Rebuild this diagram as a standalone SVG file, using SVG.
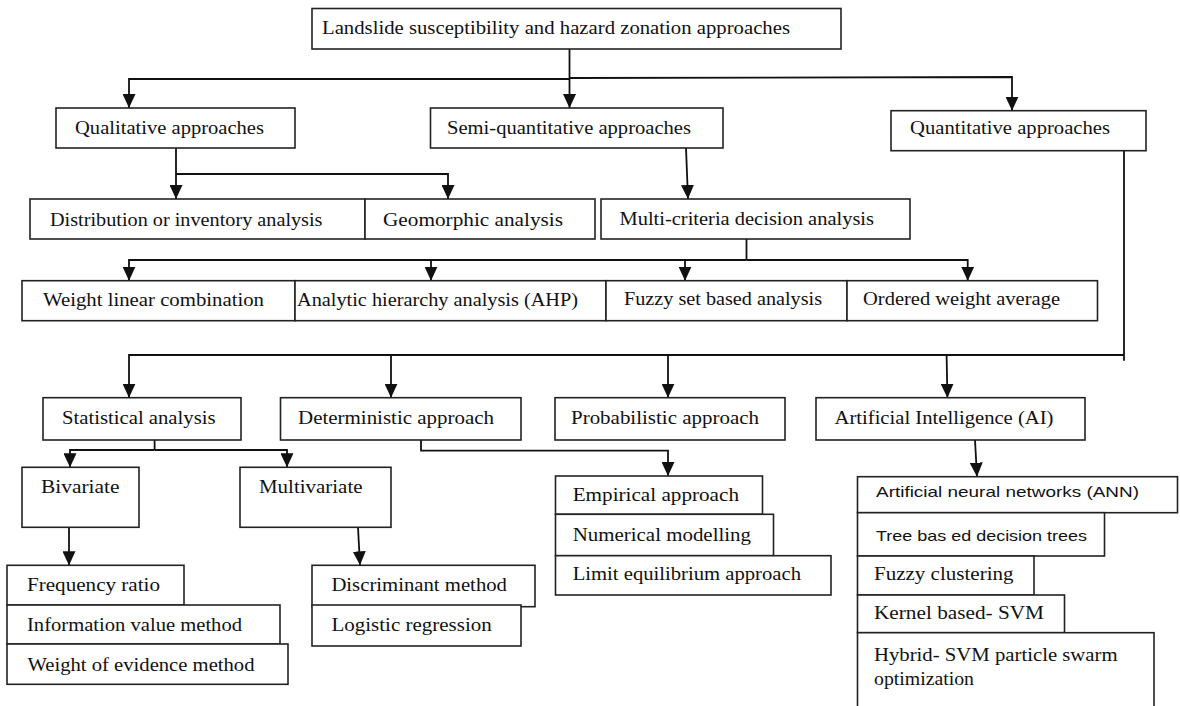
<svg xmlns="http://www.w3.org/2000/svg" width="1180" height="706" viewBox="0 0 1180 706">
<defs>
<marker id="ah" viewBox="0 0 14 13" refX="14" refY="6.5" markerWidth="14" markerHeight="13" markerUnits="userSpaceOnUse" orient="auto">
<path d="M0,0 L14,6.5 L0,13 z" fill="#111"/>
</marker>
</defs>
<style>
rect{fill:#fff;stroke:#222;stroke-width:1.6}
text{font-family:"Liberation Serif","Times New Roman",serif;font-size:18px;fill:#111}
text.s{font-family:"Liberation Sans",Arial,sans-serif;font-size:15px}
#connectors path{fill:none;stroke:#111;stroke-width:1.8}
path.a{marker-end:url(#ah)}
</style>
<rect x="0" y="0" width="1180" height="706" style="fill:#fff;stroke:none"/>

<g id="connectors">
<path class="a" d="M569.5,49 L569.5,108"/>
<path class="a" d="M569.5,79 L129,79 L129,108"/>
<path class="a" d="M569.5,78 L1012,77 L1012,110.7"/>
<path class="a" d="M176,148 L176,199"/>
<path class="a" d="M176,174 L448,174 L448,199"/>
<path class="a" d="M686,148 L688,199"/>
<path d="M746.5,239 L746.5,260"/>
<path class="a" d="M746.5,260 L129,260 L129,280.7"/>
<path class="a" d="M431,260 L431,280.7"/>
<path class="a" d="M685,260 L685,280.7"/>
<path class="a" d="M746.5,260 L967.7,260 L967.7,280.7"/>
<path d="M1124,150.7 L1124,360.7"/>
<path class="a" d="M1124,355 L129,355 L129,397.7"/>
<path class="a" d="M391,355 L391,397.7"/>
<path class="a" d="M668,355 L668,397.7"/>
<path class="a" d="M946.6,355 L947.4,397.7"/>
<path d="M154.6,440 L154.6,450"/>
<path class="a" d="M154.6,450 L70,450 L70,467.3"/>
<path class="a" d="M154.6,450 L287,450 L287,467.3"/>
<path class="a" d="M421,440 L421,450.7 L668,450.7 L668,476"/>
<path class="a" d="M975,440 L977,476.7"/>
<path class="a" d="M69,527.3 L69,565.3"/>
<path class="a" d="M358,527.3 L360,565.3"/>
</g>

<g id="n-root"><rect x="312" y="8.5" width="529" height="40.5"/><text x="322" y="34" textLength="468" lengthAdjust="spacingAndGlyphs">Landslide susceptibility and hazard zonation approaches</text></g>

<g id="n-qual"><rect x="56" y="108" width="239" height="40"/><text x="75" y="133.5" textLength="189" lengthAdjust="spacingAndGlyphs">Qualitative approaches</text></g>
<g id="n-semi"><rect x="430.5" y="108" width="292.5" height="40"/><text x="447" y="133.5" textLength="244" lengthAdjust="spacingAndGlyphs">Semi-quantitative approaches</text></g>
<g id="n-quant"><rect x="891" y="110.7" width="255" height="40"/><text x="910" y="134" textLength="200" lengthAdjust="spacingAndGlyphs">Quantitative approaches</text></g>

<g id="n-dist"><rect x="30" y="199" width="335" height="40"/><text x="50" y="225.5" textLength="272.5" lengthAdjust="spacingAndGlyphs">Distribution or inventory analysis</text></g>
<g id="n-geo"><rect x="365" y="199" width="230" height="40"/><text x="383" y="225.5" textLength="180" lengthAdjust="spacingAndGlyphs">Geomorphic  analysis</text></g>
<g id="n-mcda"><rect x="601" y="199" width="309" height="40"/><text x="619.5" y="225" textLength="254.5" lengthAdjust="spacingAndGlyphs">Multi-criteria decision analysis</text></g>

<g id="n-wlc"><rect x="22" y="280.7" width="273" height="40"/><text x="43" y="305.5" textLength="221" lengthAdjust="spacingAndGlyphs">Weight linear combination</text></g>
<g id="n-ahp"><rect x="295" y="280.7" width="311" height="40"/><text x="297" y="305.5" textLength="281" lengthAdjust="spacingAndGlyphs">Analytic hierarchy analysis (AHP)</text></g>
<g id="n-fuzzyset"><rect x="606" y="280.7" width="241" height="40"/><text x="624" y="305" textLength="198" lengthAdjust="spacingAndGlyphs">Fuzzy set based analysis</text></g>
<g id="n-owa"><rect x="847" y="280.7" width="250.5" height="40"/><text x="863" y="305" textLength="197" lengthAdjust="spacingAndGlyphs">Ordered weight average</text></g>

<g id="n-stat"><rect x="43" y="397.7" width="198" height="42.3"/><text x="62" y="424" textLength="153.5" lengthAdjust="spacingAndGlyphs">Statistical analysis</text></g>
<g id="n-det"><rect x="280.5" y="397.7" width="240.5" height="42.3"/><text x="298" y="424" textLength="196" lengthAdjust="spacingAndGlyphs">Deterministic approach</text></g>
<g id="n-prob"><rect x="555" y="397.7" width="230" height="42.3"/><text x="571" y="424" textLength="188" lengthAdjust="spacingAndGlyphs">Probabilistic approach</text></g>
<g id="n-ai"><rect x="816" y="397.7" width="269" height="42.3"/><text x="834.5" y="424" textLength="219" lengthAdjust="spacingAndGlyphs">Artificial Intelligence (AI)</text></g>

<g id="n-biv"><rect x="22" y="467.3" width="117" height="60"/><text x="41" y="493" textLength="78.5" lengthAdjust="spacingAndGlyphs">Bivariate</text></g>
<g id="n-multiv"><rect x="240" y="467.3" width="151" height="60"/><text x="259" y="493" textLength="103.5" lengthAdjust="spacingAndGlyphs">Multivariate</text></g>

<g id="n-freq"><rect x="7" y="565.3" width="177" height="39.7"/><text x="27" y="591.2" textLength="133" lengthAdjust="spacingAndGlyphs">Frequency ratio</text></g>
<g id="n-info"><rect x="7" y="605" width="273" height="39"/><text x="27" y="630.5" textLength="215" lengthAdjust="spacingAndGlyphs">Information value method</text></g>
<g id="n-woe"><rect x="7" y="644" width="281" height="40.3"/><text x="27.5" y="670.5" textLength="227" lengthAdjust="spacingAndGlyphs">Weight of evidence method</text></g>

<g id="n-disc"><rect x="312" y="565.3" width="223" height="41.4"/><text x="331.4" y="590.5" textLength="175.6" lengthAdjust="spacingAndGlyphs">Discriminant method</text></g>
<g id="n-logit"><rect x="312" y="605" width="209" height="41"/><text x="331.4" y="630.5" textLength="160.4" lengthAdjust="spacingAndGlyphs">Logistic regression</text></g>

<g id="n-emp"><rect x="555.5" y="476" width="207" height="38.3"/><text x="572.7" y="501.2" textLength="166.3" lengthAdjust="spacingAndGlyphs">Empirical approach</text></g>
<g id="n-num"><rect x="555.5" y="514.3" width="218" height="41.4"/><text x="572.7" y="541.2" textLength="178.3" lengthAdjust="spacingAndGlyphs">Numerical modelling</text></g>
<g id="n-lim"><rect x="555.5" y="555.7" width="275.5" height="39.3"/><text x="572.7" y="579.5" textLength="228.3" lengthAdjust="spacingAndGlyphs">Limit equilibrium approach</text></g>

<g id="n-ann"><rect x="857.5" y="476.7" width="320" height="36"/><text class="s" x="876" y="497" textLength="263" lengthAdjust="spacingAndGlyphs">Artificial neural networks (ANN)</text></g>
<g id="n-tree"><rect x="857.5" y="512.7" width="247" height="43.3"/><text class="s" x="876" y="541" textLength="211" lengthAdjust="spacingAndGlyphs">Tree bas ed decision trees</text></g>
<g id="n-fcl"><rect x="857.5" y="556" width="176.5" height="39"/><text x="874" y="579.5" textLength="139.5" lengthAdjust="spacingAndGlyphs">Fuzzy clustering</text></g>
<g id="n-svm"><rect x="857.5" y="595" width="207" height="37.7"/><text x="874" y="618.8" textLength="170" lengthAdjust="spacingAndGlyphs">Kernel based- SVM</text></g>
<g id="n-hyb"><rect x="857.5" y="632.7" width="296.5" height="80"/><text x="874" y="660.5" textLength="243.6" lengthAdjust="spacingAndGlyphs">Hybrid- SVM particle swarm</text><text x="874" y="684.5" textLength="100" lengthAdjust="spacingAndGlyphs">optimization</text></g>
</svg>
